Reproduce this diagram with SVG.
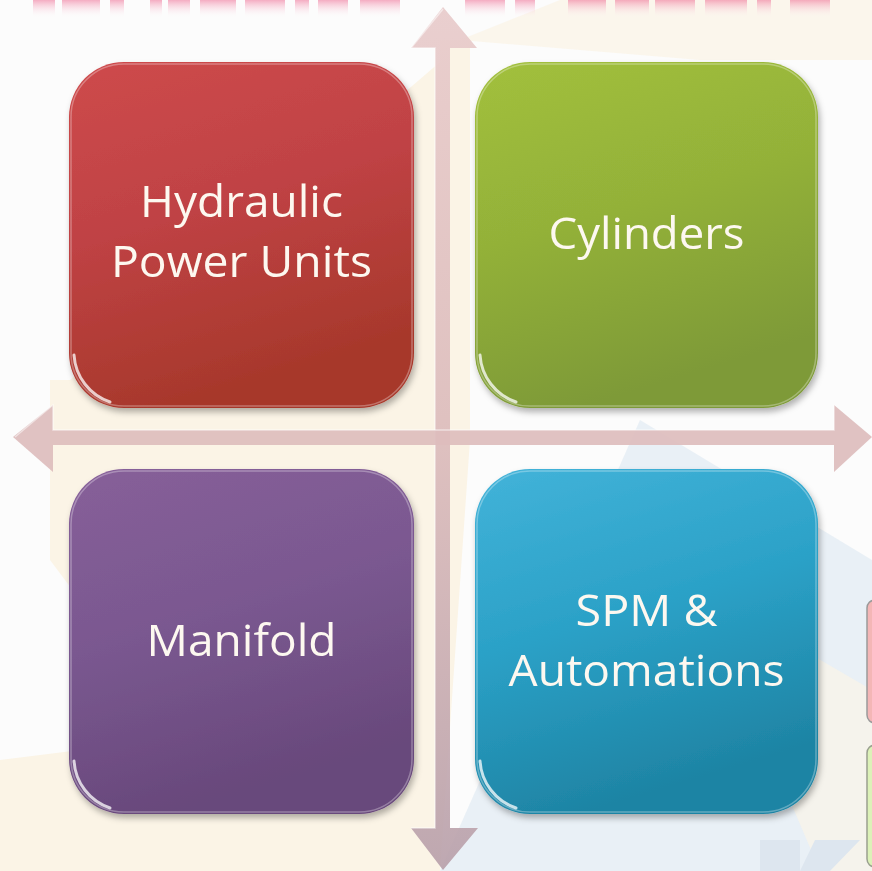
<svg xmlns="http://www.w3.org/2000/svg" width="872" height="871" viewBox="0 0 872 871">
  <defs>
    <style>
      .lbl { font-family: "Open Sans", "Liberation Sans", sans-serif; font-size: 43px; fill: #fdf8f0; text-anchor: middle; }
      .hl { fill: none; stroke: #ffffff; stroke-opacity: 0.3; stroke-width: 1.5; }
      .corner { fill: none; stroke: #ffffff; stroke-width: 3; stroke-linecap: round; stroke-opacity: 0.75; }
    </style>
    <filter id="sh" x="-10%" y="-10%" width="125%" height="125%">
      <feDropShadow dx="2" dy="4" stdDeviation="3" flood-color="#000" flood-opacity="0.3"/>
    </filter>
    <linearGradient id="gRed" x1="0" y1="0" x2="0.3" y2="1">
      <stop offset="0" stop-color="#ce4a4c"/>
      <stop offset="0.5" stop-color="#bf4244"/>
      <stop offset="1" stop-color="#a7382b"/>
    </linearGradient>
    <linearGradient id="gGreen" x1="0" y1="0" x2="0.3" y2="1">
      <stop offset="0" stop-color="#a2c03c"/>
      <stop offset="0.5" stop-color="#93b139"/>
      <stop offset="1" stop-color="#7e9a38"/>
    </linearGradient>
    <linearGradient id="gPurple" x1="0" y1="0" x2="0.3" y2="1">
      <stop offset="0" stop-color="#875f99"/>
      <stop offset="0.5" stop-color="#7a5890"/>
      <stop offset="1" stop-color="#68487b"/>
    </linearGradient>
    <linearGradient id="gBlue" x1="0" y1="0" x2="0.3" y2="1">
      <stop offset="0" stop-color="#42b3d9"/>
      <stop offset="0.5" stop-color="#2ba1c7"/>
      <stop offset="1" stop-color="#1e84a4"/>
    </linearGradient>
    <linearGradient id="gV" x1="0" y1="0" x2="0" y2="1">
      <stop offset="0" stop-color="#e8cbcb"/>
      <stop offset="0.5" stop-color="#dcbcbc"/>
      <stop offset="1" stop-color="#b9a1ab"/>
    </linearGradient>
    <linearGradient id="gTop" x1="0" y1="0" x2="0" y2="1">
      <stop offset="0" stop-color="#ee6a92" stop-opacity="0.55"/>
      <stop offset="1" stop-color="#ffffff" stop-opacity="0"/>
    </linearGradient>
  </defs>

  <!-- background / watermark -->
  <rect x="0" y="0" width="872" height="871" fill="#fcfcfc"/>
  <path d="M50,380 L50,560 L80,600 L80,750 L0,760 L0,871 L440,871 L470,440 L470,40 L440,40 L440,62 L70,380 Z" fill="#fbf4e6"/>
  <path d="M460,40 L560,0 L872,0 L872,60 L700,60 Z" fill="#fbf4e6" opacity="0.7"/>
  <path d="M640,420 L440,871 L872,871 L872,560 Z" fill="#e7eef5" opacity="0.9"/>
  <path d="M700,590 L820,871 L872,871 L872,690 Z" fill="#f9f3e8" opacity="0.7"/>
  <path d="M760,840 L800,840 L800,871 L760,871 Z M815,840 L860,840 L830,871 L800,871 Z" fill="#dde6ef"/>

  <!-- cut-off title at top -->
  <g fill="url(#gTop)">
    <rect x="33" y="0" width="22" height="18"/>
    <rect x="62" y="0" width="38" height="18"/>
    <rect x="110" y="0" width="14" height="18"/>
    <rect x="150" y="0" width="12" height="18"/>
    <rect x="168" y="0" width="22" height="18"/>
    <rect x="200" y="0" width="36" height="18"/>
    <rect x="245" y="0" width="40" height="18"/>
    <rect x="295" y="0" width="14" height="18"/>
    <rect x="318" y="0" width="30" height="18"/>
    <rect x="360" y="0" width="40" height="18"/>
    <rect x="465" y="0" width="40" height="18"/>
    <rect x="515" y="0" width="20" height="18"/>
    <rect x="568" y="0" width="38" height="18"/>
    <rect x="615" y="0" width="34" height="18"/>
    <rect x="655" y="0" width="40" height="18"/>
    <rect x="705" y="0" width="42" height="18"/>
    <rect x="757" y="0" width="14" height="18"/>
    <rect x="790" y="0" width="40" height="18"/>
  </g>

  <!-- partial shapes at right edge -->
  <rect x="867" y="600" width="40" height="123" rx="8" fill="#f4b6b6" stroke="#9a9a9a" stroke-width="1.5"/>
  <rect x="867" y="745" width="40" height="122" rx="8" fill="#dcf1b8" stroke="#9aa08f" stroke-width="1.5"/>

  <!-- connectors: axes arrows -->
  <g id="connectors">
    <polygon points="443,7 477,48 450,48 450,828 478,828 443,870 411,828 435,828 435,48 411,48" fill="url(#gV)" opacity="0.92"/>
    <polyline points="443,9 411,48 435,48 435,828 411,828" fill="none" stroke="#ffffff" stroke-opacity="0.5" stroke-width="1.5"/>
    <polygon points="13,437 53,405 53,430 834,430 834,405 872,437 834,472 834,445 53,445 53,472" fill="#ddbdbd" opacity="0.92"/>
    <polyline points="15,437 53,405 53,430 834,430 834,405" fill="none" stroke="#ffffff" stroke-opacity="0.5" stroke-width="1.5"/>
  </g>

  <!-- nodes -->
  <g id="node-hydraulic" filter="url(#sh)">
    <rect x="69" y="62" width="345" height="346" rx="55" fill="url(#gRed)"/>
    <rect x="71" y="64" width="341" height="342" rx="53" class="hl"/>
    <path d="M74,355 A53,53 0 0 0 110,402" class="corner"/>
    <text class="lbl" x="241.5" y="217" textLength="203" lengthAdjust="spacingAndGlyphs">Hydraulic</text>
    <text class="lbl" x="241.5" y="277" textLength="261" lengthAdjust="spacingAndGlyphs">Power Units</text>
  </g>

  <g id="node-cylinders" filter="url(#sh)">
    <rect x="475" y="62" width="343" height="346" rx="55" fill="url(#gGreen)"/>
    <rect x="477" y="64" width="339" height="342" rx="53" class="hl"/>
    <path d="M480,355 A53,53 0 0 0 516,402" class="corner"/>
    <text class="lbl" x="646.5" y="249" textLength="196" lengthAdjust="spacingAndGlyphs">Cylinders</text>
  </g>

  <g id="node-manifold" filter="url(#sh)">
    <rect x="69" y="469" width="345" height="345" rx="55" fill="url(#gPurple)"/>
    <rect x="71" y="471" width="341" height="341" rx="53" class="hl"/>
    <path d="M74,761 A53,53 0 0 0 110,808" class="corner"/>
    <text class="lbl" x="241.5" y="656" textLength="190" lengthAdjust="spacingAndGlyphs">Manifold</text>
  </g>

  <g id="node-spm" filter="url(#sh)">
    <rect x="475" y="469" width="343" height="345" rx="55" fill="url(#gBlue)"/>
    <rect x="477" y="471" width="339" height="341" rx="53" class="hl"/>
    <path d="M480,761 A53,53 0 0 0 516,808" class="corner"/>
    <text class="lbl" x="646.5" y="626" textLength="142" lengthAdjust="spacingAndGlyphs">SPM &amp;</text>
    <text class="lbl" x="646.5" y="686" textLength="276" lengthAdjust="spacingAndGlyphs">Automations</text>
  </g>
</svg>
